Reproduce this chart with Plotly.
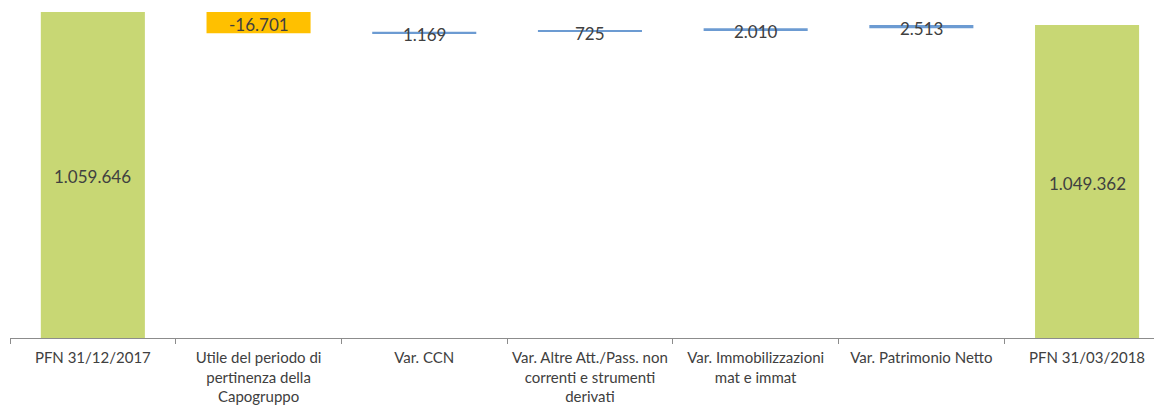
import plotly.graph_objects as go

# Bridge of the net financial position (PFN), 31/12/2017 -> 31/03/2018
categories = [
    "PFN 31/12/2017",
    "Utile del periodo di<br>pertinenza della<br>Capogruppo",
    "Var. CCN",
    "Var. Altre Att./Pass. non<br>correnti e strumenti<br>derivati",
    "Var. Immobilizzazioni<br>mat e immat",
    "Var. Patrimonio Netto",
    "PFN 31/03/2018",
]
opening = 1059646
changes = [-16701, 1169, 725, 2010, 2513]
closing = 1049362

GREEN = "#C8D774"
ORANGE = "#FFC000"
BLUE = "#6C9BD2"
TEXT = "#404040"


def fmt(v):
    return f"{v:,}".replace(",", ".")


# floating bar geometry for each step of the bridge
bases, heights, colors = [0], [opening], [GREEN]
level = opening
for c in changes:
    bases.append(level)
    heights.append(c)
    colors.append(ORANGE if c < 0 else BLUE)
    level += c
bases.append(0)
heights.append(closing)
colors.append(GREEN)

labels = [fmt(opening)] + [fmt(c) for c in changes] + [fmt(closing)]

y_min, y_max = 805000, 1068962
# value labels sit at the middle of the visible part of each bar
label_y = [max(b, y_min) + (b + h - max(b, y_min)) / 2 if h > 0 else b + h / 2
           for b, h in zip(bases, heights)]

fig = go.Figure()
fig.add_trace(go.Bar(
    x=categories, y=heights, base=bases,
    marker=dict(color=colors, line=dict(width=0)),
    width=0.628, hoverinfo="skip",
))
for cat, ly, txt in zip(categories, label_y, labels):
    fig.add_annotation(
        x=cat, y=ly, text=txt, showarrow=False,
        xanchor="center", yanchor="middle", yshift=-2,
        font=dict(family="Lato", size=17, color=TEXT),
    )

fig.update_layout(
    width=1154, height=405,
    margin=dict(l=10, r=0, t=0, b=65),
    paper_bgcolor="white", plot_bgcolor="white",
    showlegend=False,
    xaxis=dict(
        type="category", range=[-0.5, 6.404],
        showline=True, linecolor="#8C8C8C", linewidth=1,
        ticks="outside", tickson="boundaries", ticklen=5,
        tickcolor="#8C8C8C", showgrid=False,
        ticklabelstandoff=6,
        tickfont=dict(family="Lato", size=15, color=TEXT),
    ),
    yaxis=dict(range=[y_min, y_max], visible=False, showgrid=False),
)

fig.write_html("out.html")
